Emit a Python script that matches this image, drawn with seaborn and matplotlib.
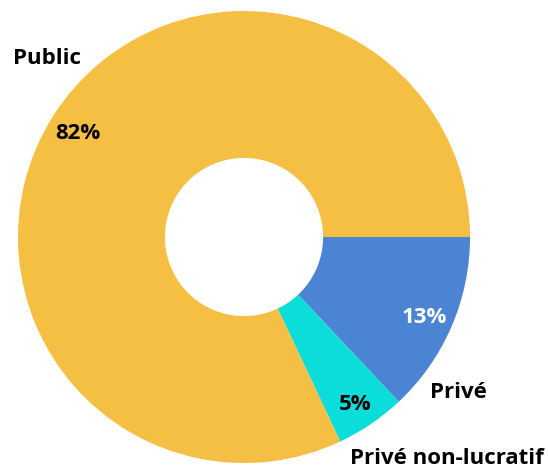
import matplotlib
matplotlib.use("Agg")
import matplotlib.pyplot as plt
import seaborn as sns

categories = ["Privé", "Privé non-lucratif", "Public"]
values = [13, 5, 82]
colors = ["#4A84D3", "#0BDDDA", "#F4BF42"]
pct_labels = ["13%", "5%", "82%"]
pct_colors = ["white", "black", "black"]

sns.set_theme(style="white")
plt.rcParams['font.family'] = ['Open Sans', 'DejaVu Sans']

fig = plt.figure(figsize=(5.48, 4.68), dpi=100)
ax = fig.add_axes([0, 0, 1, 1])
ax.pie(values, colors=colors, startangle=0, counterclock=False, radius=1.0,
       wedgeprops=dict(width=0.65, edgecolor="none", linewidth=0))
ax.set_xlim(-1.0796, 1.345)
ax.set_ylim(-1.022, 1.0487)
ax.set_aspect("equal")
ax.axis("off")

# category labels
cat_pos = {"Public": (-0.872, 0.792), "Privé": (0.947, -0.686), "Privé non-lucratif": (0.898, -0.978)}
for c in categories:
    x, y = cat_pos[c]
    ax.text(x, y, c, ha="center", va="center", fontsize=16, fontweight="bold", color="black")

pct_pos = [(0.796, -0.354), (0.491, -0.739), (-0.735, 0.46)]
for (x, y), t, col in zip(pct_pos, pct_labels, pct_colors):
    ax.text(x, y, t, ha="center", va="center", fontsize=16, fontweight="bold", color=col)

fig.savefig("out.png", dpi=100, facecolor="white")
